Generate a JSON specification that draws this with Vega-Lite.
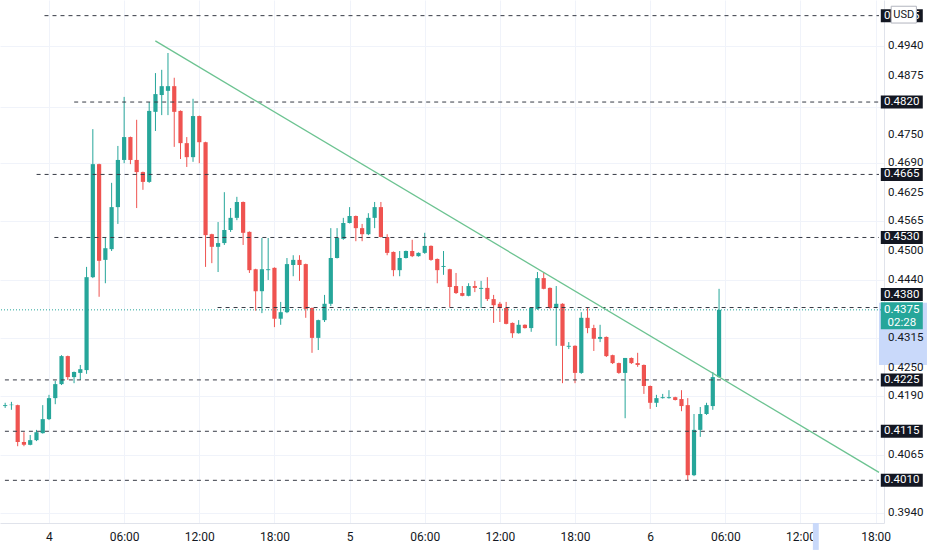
{
  "$schema": "https://vega.github.io/schema/vega-lite/v6.json",
  "width": 884,
  "height": 523,
  "autosize": {"type": "none"},
  "padding": {"left": 0, "top": 0, "right": 48, "bottom": 27},
  "background": "#ffffff",
  "config": {"view": {"stroke": null}, "font": "Roboto"},
  "datasets": {
    "hl": [
      {"a": 66.27, "b": 70.1, "lo": 0.4257, "hi": 0.439},
      {"a": 60.99, "b": 61.46, "lo": 0.3861, "hi": 0.39186}
    ],
    "yticks": [
      {"v": 0.494, "lab": "0.4940"},
      {"v": 0.4875, "lab": "0.4875"},
      {"v": 0.475, "lab": "0.4750"},
      {"v": 0.469, "lab": "0.4690"},
      {"v": 0.4625, "lab": "0.4625"},
      {"v": 0.4565, "lab": "0.4565"},
      {"v": 0.45, "lab": "0.4500"},
      {"v": 0.444, "lab": "0.4440"},
      {"v": 0.4315, "lab": "0.4315"},
      {"v": 0.425, "lab": "0.4250"},
      {"v": 0.419, "lab": "0.4190"},
      {"v": 0.4065, "lab": "0.4065"},
      {"v": 0.394, "lab": "0.3940"}
    ],
    "levels": [
      {"p": 0.5005, "s": -0.36, "lab": "0.5005"},
      {"p": 0.482, "s": 2.01, "lab": "0.4820"},
      {"p": 0.4665, "s": -0.99, "lab": "0.4665"},
      {"p": 0.453, "s": 0.43, "lab": "0.4530"},
      {"p": 0.438, "s": 13.46, "lab": "0.4380"},
      {"p": 0.4225, "s": -3.52, "lab": "0.4225"},
      {"p": 0.4115, "s": -3.52, "lab": "0.4115"},
      {"p": 0.401, "s": -3.52, "lab": "0.4010"}
    ],
    "last": [{"p": 0.4375, "lab": "0.4375", "cd": "02:28"}],
    "trend": [
      {"hr": 8.49, "p": 0.4951},
      {"hr": 66.27, "p": 0.4027}
    ],
    "candles": [
      {"hr": -3.5, "o": 0.4169, "h": 0.4176, "l": 0.4165, "c": 0.4171},
      {"hr": -3, "o": 0.4171, "h": 0.4178, "l": 0.4161, "c": 0.4172},
      {"hr": -2.5, "o": 0.4171, "h": 0.4172, "l": 0.4083, "c": 0.4092},
      {"hr": -2, "o": 0.4092, "h": 0.4113, "l": 0.4083, "c": 0.4086},
      {"hr": -1.5, "o": 0.4086, "h": 0.4107, "l": 0.4085, "c": 0.4096},
      {"hr": -1, "o": 0.4096, "h": 0.4118, "l": 0.4094, "c": 0.4113},
      {"hr": -0.5, "o": 0.4111, "h": 0.4171, "l": 0.411, "c": 0.4141},
      {"hr": 0, "o": 0.4141, "h": 0.4193, "l": 0.4139, "c": 0.4186},
      {"hr": 0.5, "o": 0.4186, "h": 0.4223, "l": 0.4173, "c": 0.4216},
      {"hr": 1, "o": 0.4216, "h": 0.4278, "l": 0.4214, "c": 0.4276},
      {"hr": 1.5, "o": 0.4276, "h": 0.4277, "l": 0.4225, "c": 0.4231},
      {"hr": 2, "o": 0.4231, "h": 0.4243, "l": 0.4218, "c": 0.4242},
      {"hr": 2.5, "o": 0.424, "h": 0.4257, "l": 0.4225, "c": 0.4248},
      {"hr": 3, "o": 0.4246, "h": 0.4467, "l": 0.4238, "c": 0.4445},
      {"hr": 3.5, "o": 0.4445, "h": 0.4762, "l": 0.4443, "c": 0.4687},
      {"hr": 4, "o": 0.4687, "h": 0.4688, "l": 0.4403, "c": 0.448},
      {"hr": 4.5, "o": 0.4482, "h": 0.4529, "l": 0.4432, "c": 0.4507},
      {"hr": 5, "o": 0.4505, "h": 0.4647, "l": 0.4501, "c": 0.4595},
      {"hr": 5.5, "o": 0.4595, "h": 0.4726, "l": 0.4559, "c": 0.4696},
      {"hr": 6, "o": 0.4696, "h": 0.4831, "l": 0.4689, "c": 0.4745},
      {"hr": 6.5, "o": 0.4745, "h": 0.4746, "l": 0.4687, "c": 0.4696},
      {"hr": 7, "o": 0.4696, "h": 0.4782, "l": 0.4593, "c": 0.467},
      {"hr": 7.5, "o": 0.467, "h": 0.4671, "l": 0.4632, "c": 0.4649},
      {"hr": 8, "o": 0.4649, "h": 0.482, "l": 0.4647, "c": 0.4801},
      {"hr": 8.5, "o": 0.4799, "h": 0.4882, "l": 0.4758, "c": 0.4837},
      {"hr": 9, "o": 0.4835, "h": 0.4889, "l": 0.4792, "c": 0.4854},
      {"hr": 9.5, "o": 0.4844, "h": 0.4925, "l": 0.4792, "c": 0.4854},
      {"hr": 10, "o": 0.4854, "h": 0.4872, "l": 0.4724, "c": 0.4799},
      {"hr": 10.5, "o": 0.4801, "h": 0.4802, "l": 0.4698, "c": 0.4732},
      {"hr": 11, "o": 0.4732, "h": 0.4745, "l": 0.4681, "c": 0.4702},
      {"hr": 11.5, "o": 0.4702, "h": 0.4827, "l": 0.4692, "c": 0.479},
      {"hr": 12, "o": 0.479, "h": 0.4791, "l": 0.4689, "c": 0.4734},
      {"hr": 12.5, "o": 0.4734, "h": 0.4735, "l": 0.4467, "c": 0.4535},
      {"hr": 13, "o": 0.4537, "h": 0.4538, "l": 0.4475, "c": 0.451},
      {"hr": 13.5, "o": 0.451, "h": 0.4563, "l": 0.4456, "c": 0.4518},
      {"hr": 14, "o": 0.4518, "h": 0.4627, "l": 0.4514, "c": 0.4546},
      {"hr": 14.5, "o": 0.4546, "h": 0.4593, "l": 0.4542, "c": 0.4572},
      {"hr": 15, "o": 0.4572, "h": 0.4617, "l": 0.4567, "c": 0.4606},
      {"hr": 15.5, "o": 0.4606, "h": 0.4607, "l": 0.4514, "c": 0.454},
      {"hr": 16, "o": 0.4542, "h": 0.4543, "l": 0.4454, "c": 0.446},
      {"hr": 16.5, "o": 0.4462, "h": 0.4463, "l": 0.4373, "c": 0.4415},
      {"hr": 17, "o": 0.4415, "h": 0.4529, "l": 0.4368, "c": 0.4462},
      {"hr": 17.5, "o": 0.446, "h": 0.4529, "l": 0.4439, "c": 0.4462},
      {"hr": 18, "o": 0.4465, "h": 0.4466, "l": 0.4338, "c": 0.4356},
      {"hr": 18.5, "o": 0.4356, "h": 0.4392, "l": 0.4343, "c": 0.437},
      {"hr": 19, "o": 0.437, "h": 0.4486, "l": 0.4368, "c": 0.4473},
      {"hr": 19.5, "o": 0.4471, "h": 0.4492, "l": 0.4447, "c": 0.4482},
      {"hr": 20, "o": 0.4482, "h": 0.4492, "l": 0.4437, "c": 0.4471},
      {"hr": 20.5, "o": 0.4473, "h": 0.4474, "l": 0.4358, "c": 0.4377},
      {"hr": 21, "o": 0.4379, "h": 0.438, "l": 0.4283, "c": 0.4315},
      {"hr": 21.5, "o": 0.4315, "h": 0.4354, "l": 0.4289, "c": 0.4353},
      {"hr": 22, "o": 0.4353, "h": 0.4407, "l": 0.4349, "c": 0.4388},
      {"hr": 22.5, "o": 0.4388, "h": 0.455, "l": 0.4383, "c": 0.4486},
      {"hr": 23, "o": 0.4486, "h": 0.455, "l": 0.4485, "c": 0.4529},
      {"hr": 23.5, "o": 0.4527, "h": 0.4572, "l": 0.4525, "c": 0.4561},
      {"hr": 24, "o": 0.4561, "h": 0.4595, "l": 0.456, "c": 0.4576},
      {"hr": 24.5, "o": 0.4576, "h": 0.4577, "l": 0.4522, "c": 0.455},
      {"hr": 25, "o": 0.455, "h": 0.4559, "l": 0.4522, "c": 0.4537},
      {"hr": 25.5, "o": 0.4537, "h": 0.4582, "l": 0.4535, "c": 0.4572},
      {"hr": 26, "o": 0.4572, "h": 0.4606, "l": 0.455, "c": 0.4595},
      {"hr": 26.5, "o": 0.4595, "h": 0.4606, "l": 0.453, "c": 0.4531},
      {"hr": 27, "o": 0.4531, "h": 0.4537, "l": 0.4492, "c": 0.4497},
      {"hr": 27.5, "o": 0.4499, "h": 0.45, "l": 0.4447, "c": 0.446},
      {"hr": 28, "o": 0.446, "h": 0.4501, "l": 0.4447, "c": 0.4486},
      {"hr": 28.5, "o": 0.4486, "h": 0.4502, "l": 0.4485, "c": 0.4501},
      {"hr": 29, "o": 0.4501, "h": 0.4525, "l": 0.4488, "c": 0.449},
      {"hr": 29.5, "o": 0.449, "h": 0.4498, "l": 0.4489, "c": 0.4497},
      {"hr": 30, "o": 0.4497, "h": 0.454, "l": 0.4495, "c": 0.4512},
      {"hr": 30.5, "o": 0.4512, "h": 0.4513, "l": 0.448, "c": 0.4482},
      {"hr": 31, "o": 0.4484, "h": 0.4485, "l": 0.4432, "c": 0.446},
      {"hr": 31.5, "o": 0.4467, "h": 0.4501, "l": 0.445, "c": 0.4469},
      {"hr": 32, "o": 0.4462, "h": 0.4463, "l": 0.4381, "c": 0.4424},
      {"hr": 32.5, "o": 0.4426, "h": 0.4454, "l": 0.4409, "c": 0.4411},
      {"hr": 33, "o": 0.4411, "h": 0.4426, "l": 0.4404, "c": 0.4405},
      {"hr": 33.5, "o": 0.4405, "h": 0.4432, "l": 0.4404, "c": 0.4426},
      {"hr": 34, "o": 0.4426, "h": 0.4437, "l": 0.4413, "c": 0.4422},
      {"hr": 34.5, "o": 0.442, "h": 0.4437, "l": 0.4379, "c": 0.4422},
      {"hr": 35, "o": 0.4422, "h": 0.4445, "l": 0.4394, "c": 0.4398},
      {"hr": 35.5, "o": 0.4398, "h": 0.4407, "l": 0.4347, "c": 0.4385},
      {"hr": 36, "o": 0.4388, "h": 0.4392, "l": 0.4349, "c": 0.4379},
      {"hr": 36.5, "o": 0.4379, "h": 0.4392, "l": 0.4344, "c": 0.4345},
      {"hr": 37, "o": 0.4347, "h": 0.4348, "l": 0.4315, "c": 0.4325},
      {"hr": 37.5, "o": 0.4325, "h": 0.4353, "l": 0.4324, "c": 0.4343},
      {"hr": 38, "o": 0.4343, "h": 0.4344, "l": 0.4335, "c": 0.4336},
      {"hr": 38.5, "o": 0.4336, "h": 0.438, "l": 0.4328, "c": 0.4379},
      {"hr": 39, "o": 0.4377, "h": 0.4456, "l": 0.4375, "c": 0.4443},
      {"hr": 39.5, "o": 0.4443, "h": 0.4456, "l": 0.4419, "c": 0.442},
      {"hr": 40, "o": 0.4422, "h": 0.4423, "l": 0.4377, "c": 0.4379},
      {"hr": 40.5, "o": 0.4379, "h": 0.4426, "l": 0.4298, "c": 0.4388},
      {"hr": 41, "o": 0.4388, "h": 0.4389, "l": 0.4218, "c": 0.4298},
      {"hr": 41.5, "o": 0.4296, "h": 0.4306, "l": 0.4291, "c": 0.4298},
      {"hr": 42, "o": 0.4298, "h": 0.4299, "l": 0.4218, "c": 0.424},
      {"hr": 42.5, "o": 0.424, "h": 0.437, "l": 0.4238, "c": 0.4358},
      {"hr": 43, "o": 0.4358, "h": 0.4379, "l": 0.4325, "c": 0.4336},
      {"hr": 43.5, "o": 0.4336, "h": 0.4343, "l": 0.4287, "c": 0.4313},
      {"hr": 44, "o": 0.4313, "h": 0.4343, "l": 0.4306, "c": 0.4317},
      {"hr": 44.5, "o": 0.4317, "h": 0.4318, "l": 0.4274, "c": 0.4276},
      {"hr": 45, "o": 0.4278, "h": 0.4279, "l": 0.4259, "c": 0.4261},
      {"hr": 45.5, "o": 0.4261, "h": 0.4262, "l": 0.4238, "c": 0.424},
      {"hr": 46, "o": 0.424, "h": 0.4272, "l": 0.4143, "c": 0.4272},
      {"hr": 46.5, "o": 0.4272, "h": 0.4273, "l": 0.4259, "c": 0.4261},
      {"hr": 47, "o": 0.4261, "h": 0.4283, "l": 0.4253, "c": 0.4257},
      {"hr": 47.5, "o": 0.4257, "h": 0.4258, "l": 0.4195, "c": 0.4212},
      {"hr": 48, "o": 0.4212, "h": 0.4213, "l": 0.4163, "c": 0.4176},
      {"hr": 48.5, "o": 0.4176, "h": 0.4193, "l": 0.4167, "c": 0.4186},
      {"hr": 49, "o": 0.4186, "h": 0.4195, "l": 0.4185, "c": 0.4188},
      {"hr": 49.5, "o": 0.4186, "h": 0.4203, "l": 0.4185, "c": 0.4188},
      {"hr": 50, "o": 0.4188, "h": 0.4189, "l": 0.4181, "c": 0.4182},
      {"hr": 50.5, "o": 0.4184, "h": 0.4203, "l": 0.4158, "c": 0.4169},
      {"hr": 51, "o": 0.4171, "h": 0.4186, "l": 0.4009, "c": 0.4021},
      {"hr": 51.5, "o": 0.4021, "h": 0.4152, "l": 0.4019, "c": 0.4118},
      {"hr": 52, "o": 0.4118, "h": 0.4167, "l": 0.4103, "c": 0.4152},
      {"hr": 52.5, "o": 0.4152, "h": 0.4176, "l": 0.415, "c": 0.4171},
      {"hr": 53, "o": 0.4169, "h": 0.4242, "l": 0.4161, "c": 0.4231},
      {"hr": 53.5, "o": 0.4231, "h": 0.442, "l": 0.423, "c": 0.4375}
    ]
  },
  "layer": [
    {
      "data": {"name": "hl"},
      "mark": {"type": "rect", "color": "#c9d9fa", "clip": false},
      "encoding": {
        "x": {
          "field": "a",
          "type": "quantitative",
          "title": null,
          "scale": {"domain": [-3.513, 66.27], "nice": false, "zero": false},
          "axis": {
            "values": [0, 6, 12, 18, 24, 30, 36, 42, 48, 54, 60, 66],
            "labelExpr": "datum.value % 24 == 0 ? format(4 + datum.value / 24, 'd') : format(datum.value % 24, '02d') + ':00'",
            "grid": true,
            "gridColor": "#f0f3fa",
            "ticks": false,
            "domainColor": "#e0e3eb",
            "labelColor": "#131722",
            "labelFontSize": 12,
            "labelPadding": 8,
            "labelOverlap": false,
            "labelFlush": false
          }
        },
        "x2": {"field": "b"},
        "y": {
          "field": "lo",
          "type": "quantitative",
          "title": null,
          "scale": {"domain": [0.39186, 0.50385], "nice": false, "zero": false},
          "axis": {
            "orient": "right",
            "values": [0.5, 0.494, 0.4875, 0.481, 0.475, 0.469, 0.4625, 0.4565, 0.45, 0.444, 0.4375, 0.4315, 0.425, 0.419, 0.4125, 0.4065, 0.4, 0.394],
            "labels": false,
            "grid": true,
            "gridColor": "#f0f3fa",
            "ticks": false,
            "domainColor": "#e0e3eb"
          }
        },
        "y2": {"field": "hi"}
      }
    },
    {
      "data": {"name": "yticks"},
      "mark": {"type": "text", "color": "#131722", "fontSize": 11.5, "align": "left", "baseline": "middle", "clip": false},
      "encoding": {
        "x": {"datum": 66.99, "type": "quantitative"},
        "y": {"field": "v", "type": "quantitative"},
        "text": {"field": "lab"}
      }
    },
    {
      "data": {"name": "candles"},
      "mark": {"type": "rule", "strokeWidth": 1, "clip": true},
      "encoding": {
        "x": {"field": "hr", "type": "quantitative"},
        "y": {"field": "l", "type": "quantitative"},
        "y2": {"field": "h"},
        "color": {"condition": {"test": "datum.c >= datum.o", "value": "#26a69a"}, "value": "#ef5350"}
      }
    },
    {
      "data": {"name": "candles"},
      "mark": {"type": "bar", "size": 4.2, "clip": true},
      "encoding": {
        "x": {"field": "hr", "type": "quantitative"},
        "y": {"field": "o", "type": "quantitative"},
        "y2": {"field": "c"},
        "color": {"condition": {"test": "datum.c >= datum.o", "value": "#26a69a"}, "value": "#ef5350"}
      }
    },
    {
      "data": {"name": "last"},
      "mark": {"type": "rule", "color": "#26a69a", "strokeDash": [1, 2], "strokeWidth": 1},
      "encoding": {"y": {"field": "p", "type": "quantitative"}}
    },
    {
      "data": {"name": "levels"},
      "mark": {"type": "rule", "color": "#363a45", "strokeDash": [4, 4], "strokeWidth": 1, "clip": true},
      "encoding": {
        "x": {"field": "s", "type": "quantitative"},
        "x2": {"datum": 66.27},
        "y": {"field": "p", "type": "quantitative"}
      }
    },
    {
      "data": {"name": "trend"},
      "mark": {"type": "line", "color": "#6cc391", "strokeWidth": 1.3, "clip": true},
      "encoding": {
        "x": {"field": "hr", "type": "quantitative"},
        "y": {"field": "p", "type": "quantitative"}
      }
    },
    {
      "data": {"name": "levels"},
      "transform": [{"filter": "datum.p != 0.438"}],
      "encoding": {
        "x": {"datum": 68.09, "type": "quantitative"},
        "y": {"field": "p", "type": "quantitative"}
      },
      "layer": [
        {"mark": {"type": "point", "shape": "M-1,-0.31L1,-0.31L1,0.31L-1,0.31Z", "size": 1764, "filled": true, "color": "#131722", "opacity": 1, "clip": false}},
        {"mark": {"type": "text", "color": "#ffffff", "fontSize": 11.5, "align": "center", "baseline": "middle", "clip": false}, "encoding": {"text": {"field": "lab"}}}
      ]
    },
    {
      "data": {"name": "levels"},
      "transform": [{"filter": "datum.p == 0.438"}],
      "encoding": {
        "x": {"datum": 68.09, "type": "quantitative"},
        "y": {"field": "p", "type": "quantitative"}
      },
      "layer": [
        {"mark": {"type": "point", "shape": "M-1,-0.31L1,-0.31L1,0.31L-1,0.31Z", "size": 1764, "filled": true, "color": "#131722", "opacity": 1, "clip": false, "yOffset": -13}},
        {"mark": {"type": "text", "color": "#ffffff", "fontSize": 11.5, "align": "center", "baseline": "middle", "clip": false, "yOffset": -13}, "encoding": {"text": {"field": "lab"}}}
      ]
    },
    {
      "data": {"name": "last"},
      "encoding": {
        "x": {"datum": 68.09, "type": "quantitative"},
        "y": {"field": "p", "type": "quantitative"}
      },
      "layer": [
        {"mark": {"type": "point", "shape": "M-1,-0.643L1,-0.643L1,0.643L-1,0.643Z", "size": 1764, "filled": true, "color": "#26a69a", "opacity": 1, "clip": false, "yOffset": 6}},
        {"mark": {"type": "text", "color": "#ffffff", "fontSize": 11.5, "align": "center", "baseline": "middle", "clip": false}, "encoding": {"text": {"field": "lab"}}},
        {"mark": {"type": "text", "color": "#ffffff", "fontSize": 11.5, "align": "center", "baseline": "middle", "clip": false, "yOffset": 13}, "encoding": {"text": {"field": "cd"}}}
      ]
    },
    {
      "data": {"name": "levels"},
      "transform": [{"filter": "datum.p == 0.5005"}],
      "encoding": {
        "x": {"datum": 68.25, "type": "quantitative"},
        "y": {"field": "p", "type": "quantitative"}
      },
      "layer": [
        {"mark": {"type": "point", "shape": "M-0.9,-0.6L0.9,-0.6L0.9,0.6L-0.9,0.6Z", "size": 784, "filled": true, "fill": "#ffffff", "stroke": "#b2b5be", "strokeWidth": 1, "opacity": 1, "clip": false, "yOffset": -1}},
        {"mark": {"type": "text", "color": "#131722", "fontSize": 11, "align": "center", "baseline": "middle", "clip": false, "yOffset": -1, "text": "USD"}}
      ]
    }
  ]
}
